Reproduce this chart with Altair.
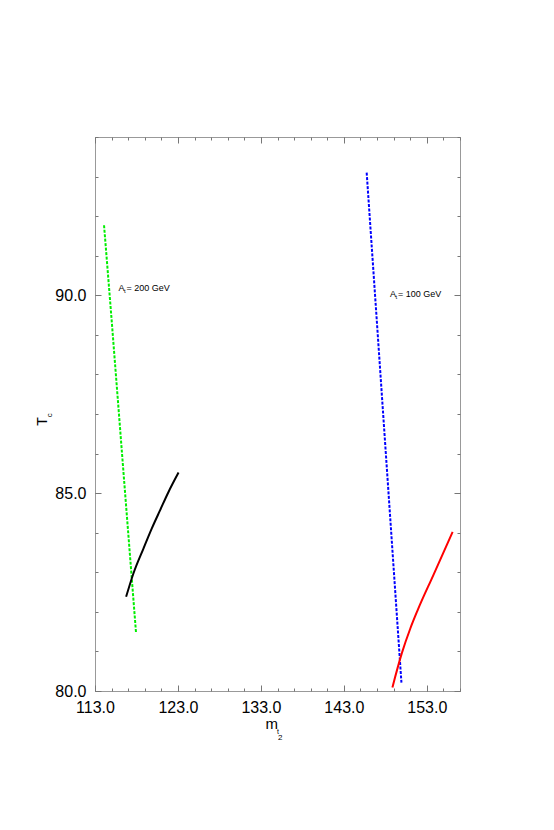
import altair as alt
import pandas as pd

# ---- data ----
green_x = [114.09, 115.00, 116.48, 117.95]
green_y = [91.77, 89.39, 85.40, 81.46]
blue_x = [145.75, 146.96, 148.45, 149.94]
blue_y = [93.10, 89.39, 84.80, 80.21]
black_x = [116.75, 117.63, 118.84, 119.85, 120.85, 121.86, 123.07]
black_y = [82.38, 82.97, 83.60, 84.11, 84.57, 85.03, 85.52]
red_x = [148.85, 149.98, 151.01, 151.91, 153.79, 156.11]
red_y = [80.09, 80.95, 81.58, 82.05, 82.93, 84.02]

x_major = [113, 123, 133, 143, 153]
x_minor = list(range(113, 158, 2))
y_major = [80, 85, 90]
y_minor = list(range(80, 95, 1))

labels_txt = ["= 200 GeV", "= 100 GeV"]
labels_x = [115.82, 148.56]
labels_y = [90.18, 90.03]

LABEL_FONT = "Liberation Sans Narrow, Arial Narrow, Liberation Sans"

x_scale = alt.Scale(domain=[113, 157], nice=False, zero=False)
y_scale = alt.Scale(domain=[80, 94], nice=False, zero=False)


def series(xs, ys):
    return pd.DataFrame({"x": xs, "y": ys, "o": list(range(len(xs)))})


def line_layer(xs, ys, color, dash=None):
    kw = dict(color=color, strokeWidth=2)
    if dash:
        kw["strokeDash"] = dash
    else:
        kw["interpolate"] = "monotone"
    return alt.Chart(series(xs, ys)).mark_line(**kw).encode(
        x=alt.X("x:Q", scale=x_scale, axis=None),
        y=alt.Y("y:Q", scale=y_scale, axis=None),
        order="o:Q",
    )


def axis(orient, values, size, labels, pad):
    kw = dict(
        orient=orient, values=values, tickSize=size, offset=-size,
        domain=False, grid=False, labels=labels, title=None,
        tickColor="#777777", tickWidth=1,
    )
    if labels:
        kw.update(format=".1f", labelPadding=pad, labelFont=LABEL_FONT,
                  labelFontSize=16, labelColor="#000000", labelOverlap=False,
                  labelFlush=False)
    return alt.Axis(**kw)


anchor = pd.DataFrame({"x": [113], "y": [80]})


def axis_layer(xo, yo, xv, yv, size, labels):
    return alt.Chart(anchor).mark_point(opacity=0).encode(
        x=alt.X("x:Q", scale=x_scale, axis=axis(xo, xv, size, labels, 8)),
        y=alt.Y("y:Q", scale=y_scale, axis=axis(yo, yv, size, labels, 9)),
    )


def text_layer(df, **mk):
    return alt.Chart(df).mark_text(**mk).encode(
        x=alt.X("x:Q", scale=x_scale, axis=None),
        y=alt.Y("y:Q", scale=y_scale, axis=None),
        text="t:N",
    )


lab = pd.DataFrame({"x": labels_x, "y": labels_y, "t": labels_txt})
labA = pd.DataFrame({"x": labels_x, "y": labels_y, "t": ["A", "A"]})
labt = pd.DataFrame({"x": labels_x, "y": labels_y, "t": ["t", "t"]})

xt_m = pd.DataFrame({"x": [133.55], "y": [79.05], "t": ["m"]})
xt_t = pd.DataFrame({"x": [134.95], "y": [78.91], "t": ["t"]})
xt_2 = pd.DataFrame({"x": [135.05], "y": [78.75], "t": ["2"]})
yt_T = pd.DataFrame({"x": [107.2], "y": [86.7], "t": ["T"]})
yt_c = pd.DataFrame({"x": [107.8], "y": [86.92], "t": ["c"]})

layers = [
    axis_layer("bottom", "left", x_major, y_major, 6, True),
    axis_layer("bottom", "left", x_minor, y_minor, 3, False),
    axis_layer("top", "right", x_major, y_major, 6, False),
    axis_layer("top", "right", x_minor, y_minor, 3, False),
    line_layer(green_x, green_y, "#00ee00", [3, 1.5]),
    line_layer(blue_x, blue_y, "#0000ff", [3, 1.5]),
    line_layer(black_x, black_y, "#000000"),
    line_layer(red_x, red_y, "#ff0000"),
    text_layer(labA, align="left", baseline="middle", fontSize=9,
               font="Liberation Sans", color="#000000"),
    text_layer(labt, align="left", baseline="middle", fontSize=6,
               font="Liberation Sans", color="#000000", dx=5.5, dy=3),
    text_layer(lab, align="left", baseline="middle", fontSize=9,
               font="Liberation Sans", color="#000000", dx=8),
    text_layer(xt_m, align="left", baseline="alphabetic", fontSize=15,
               font=LABEL_FONT, color="#000000"),
    text_layer(xt_t, align="left", baseline="alphabetic", fontSize=7,
               font="Liberation Sans", color="#000000"),
    text_layer(xt_2, align="left", baseline="alphabetic", fontSize=8,
               font="Liberation Sans", color="#000000"),
    text_layer(yt_T, align="left", baseline="alphabetic", fontSize=14,
               font="Liberation Sans", color="#000000", angle=270),
    text_layer(yt_c, align="left", baseline="alphabetic", fontSize=8,
               font="Liberation Sans", color="#000000", angle=270),
]

chart = (
    alt.layer(*layers)
    .resolve_axis(x="independent", y="independent")
    .properties(
        width=365,
        height=554,
        autosize=alt.AutoSizeParams(type="none"),
        padding={"left": 87, "top": 129, "right": 10, "bottom": 110},
    )
    .configure_view(stroke="#999999", strokeWidth=1)
)

chart.save("out.html", embed_options={"renderer": "svg", "actions": False})
